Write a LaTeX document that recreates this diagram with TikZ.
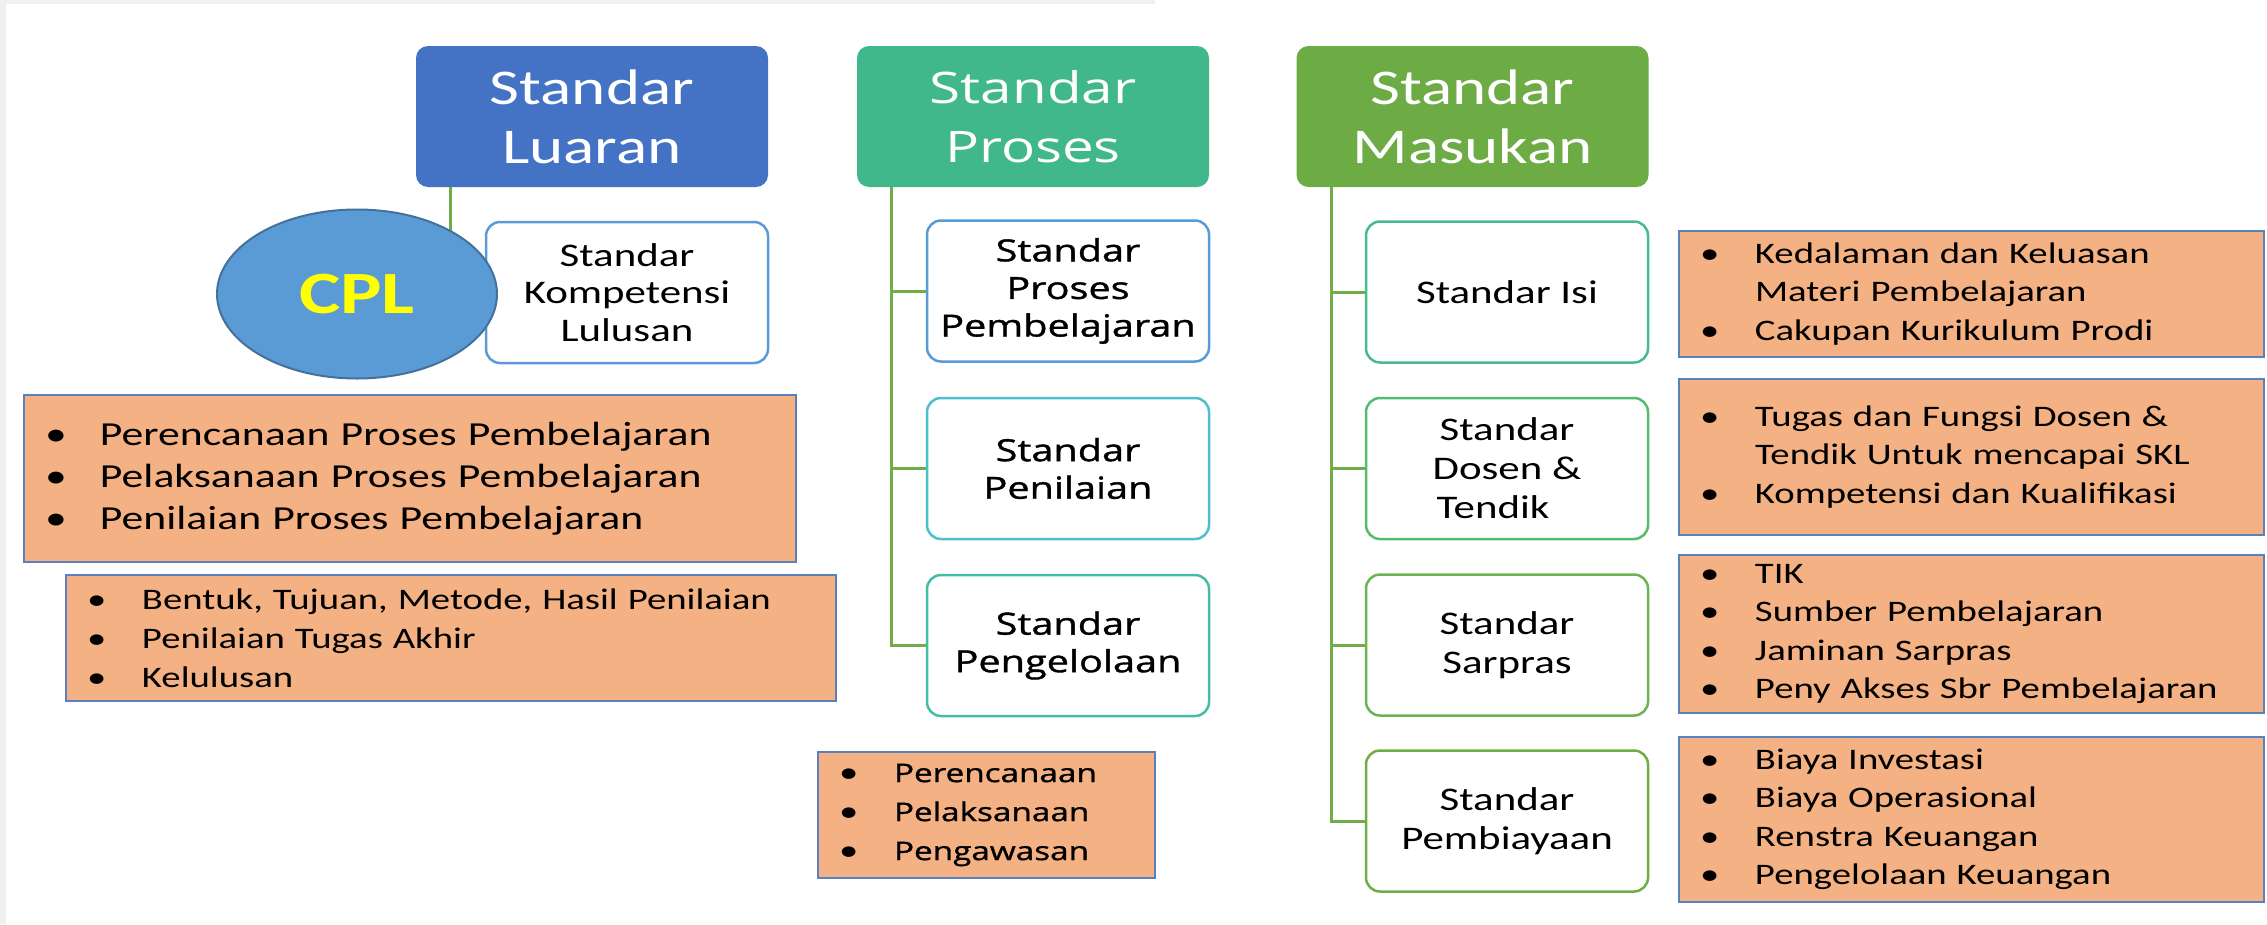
\documentclass[tikz,border=0pt]{standalone}
\usepackage{fontspec}
\usetikzlibrary{backgrounds,shapes.geometric}
\newfontfamily\calfont{Carlito}[FakeStretch=1.3]
\newfontfamily\osfont{Open Sans}[FakeStretch=1.3]
\newfontfamily\osbfont{Open Sans}[FakeStretch=1.3,FakeBold=1.2]
\definecolor{lublue}{HTML}{4472C4}
\definecolor{prgreen}{HTML}{41B88B}
\definecolor{magreen}{HTML}{6DAC45}
\definecolor{kompblue}{HTML}{5B9BD5}
\definecolor{cplfill}{HTML}{5B9BD5}
\definecolor{cplborder}{HTML}{41719C}
\definecolor{cplyellow}{HTML}{FFFF00}
\definecolor{orangefill}{HTML}{F4B183}
\definecolor{olborder}{HTML}{5A80BE}
\definecolor{conngreen}{HTML}{70AD47}
\definecolor{bA}{HTML}{5B9BD5}
\definecolor{bB}{HTML}{4BBFCB}
\definecolor{bC}{HTML}{45BDA5}
\definecolor{bD}{HTML}{46BC8D}
\definecolor{bE}{HTML}{58BA6C}
\definecolor{bF}{HTML}{6BB452}
\definecolor{bG}{HTML}{70AD47}
\definecolor{stripgray}{HTML}{F0F0F0}
\newcommand\lsitem[1]{\mbox{\makebox[55pt][l]{•}#1}}
\newcommand\lsitemo[1]{\mbox{\makebox[55pt][l]{\calfont\fontsize{29.8}{29.8}\selectfont •}#1}}
\newcommand\lscont[1]{\mbox{\hspace*{55pt}#1}}
\tikzset{
  hdr/.style={rounded corners=12pt, minimum width=352pt, minimum height=141pt, text=white, align=center, inner sep=0pt},
  child/.style={draw, line width=2.5pt, fill=white, rounded corners=14pt, minimum width=282pt, minimum height=141pt, align=center, inner sep=0pt, text=black},
  olist/.style={draw=olborder, line width=2.5pt, fill=orangefill, align=left, inner xsep=21pt, inner ysep=0pt, text=black},
  conn/.style={draw=conngreen, line width=3pt},
  calhdr/.style={font=\calfont\fontsize{50}{59}\selectfont},
  oshdr/.style={font=\osfont\fontsize{43.5}{59}\selectfont},
  calchild/.style={font=\calfont\fontsize{33}{39}\selectfont},
  oschild/.style={font=\osbfont\fontsize{30.5}{37.6}\selectfont},
  callist/.style={font=\calfont\fontsize{29.8}{38.5}\selectfont},
}
\begin{document}
\begin{tikzpicture}[x=1pt,y=-1pt]
\useasboundingbox (0,0) rectangle (2267,924);

% headers
\node[hdr, calhdr, fill=lublue] (lu) at (592,116.5) {Standar\\Luaran};
\node[hdr, oshdr, fill=prgreen] (pr) at (1033,116.5) {Standar\\Proses};
\node[hdr, calhdr, fill=magreen] (ma) at (1472.5,116.5) {Standar\\Masukan};

% luaran
\node[child, draw=kompblue, font=\calfont\fontsize{33}{37.6}\selectfont] (komp) at (627,292.5) {Standar\\Kompetensi\\Lulusan};
\node[ellipse, draw=cplborder, line width=2pt, fill=cplfill, minimum width=280pt, minimum height=169pt, inner sep=0pt, text=cplyellow, font=\calfont\bfseries\fontsize{60}{60}\selectfont] (cpl) at (357,294) {CPL};

\node[olist, text width=730pt, minimum height=167pt, font=\calfont\fontsize{33.6}{42}\selectfont] (ol1) at (410,478.5)
  {\lsitem{Perencanaan Proses Pembelajaran}\\\lsitem{Pelaksanaan Proses Pembelajaran}\\\lsitem{Penilaian Proses Pembelajaran}};
\node[olist, text width=728pt, minimum height=126pt, font=\calfont\fontsize{29.8}{39}\selectfont] (ol2) at (451,638)
  {\lsitem{Bentuk, Tujuan, Metode, Hasil Penilaian}\\\lsitem{Penilaian Tugas Akhir}\\\lsitem{Kelulusan}};

% proses
\node[child, oschild, draw=bA] (pc1) at (1068,291) {Standar\\Proses\\Pembelajaran};
\node[child, oschild, draw=bB] (pc2) at (1068,468.5) {Standar\\Penilaian};
\node[child, oschild, draw=bC] (pc3) at (1068,645.5) {Standar\\Pengelolaan};
\node[olist, text width=295pt, minimum height=126pt, font=\osbfont\fontsize{25.6}{39}\selectfont] (pl) at (986.5,815)
  {\lsitemo{Perencanaan}\\\lsitemo{Pelaksanaan}\\\lsitemo{Pengawasan}};

% masukan
\node[child, calchild, draw=bD] (mc1) at (1507,292) {Standar Isi};
\node[child, calchild, draw=bE] (mc2) at (1507,468.5) {Standar\\Dosen \&\\Tendik\hspace*{28pt}};
\node[child, calchild, draw=bF] (mc3) at (1507,645) {Standar\\Sarpras};
\node[child, calchild, draw=bG] (mc4) at (1507,821) {Standar\\Pembiayaan};

\node[olist, callist, text width=543pt, minimum height=126pt] (ml1) at (1971.5,294)
  {\lsitem{Kedalaman dan Keluasan}\\\lscont{Materi Pembelajaran}\\\lsitem{Cakupan Kurikulum Prodi}};
\node[olist, callist, text width=543pt, minimum height=156pt] (ml2) at (1971.5,457)
  {\lsitem{Tugas dan Fungsi Dosen \&}\\\lscont{Tendik Untuk mencapai SKL}\\\lsitem{Kompetensi dan Kualifikasi}};
\node[olist, callist, text width=543pt, minimum height=158pt] (ml3) at (1971.5,634)
  {\lsitem{TIK}\\\lsitem{Sumber Pembelajaran}\\\lsitem{Jaminan Sarpras}\\\lsitem{Peny Akses Sbr Pembelajaran}};
\node[olist, callist, text width=543pt, minimum height=165pt] (ml4) at (1971.5,819.5)
  {\lsitem{Biaya Investasi}\\\lsitem{Biaya Operasional}\\\lsitem{Renstra Keuangan}\\\lsitem{Pengelolaan Keuangan}};

\begin{pgfonlayer}{background}
\fill[white] (0,0) rectangle (2267,924);
\fill[stripgray] (0,0) rectangle (1155,4);
\fill[stripgray] (0,0) rectangle (6,924);
\draw[conn] ([xshift=35pt]lu.south west) |- (komp.west);
\draw[conn] ([xshift=35pt]pr.south west) |- (pc1.west);
\draw[conn] ([xshift=35pt]pr.south west) |- (pc2.west);
\draw[conn] ([xshift=35pt]pr.south west) |- (pc3.west);
\draw[conn] ([xshift=35pt]ma.south west) |- (mc1.west);
\draw[conn] ([xshift=35pt]ma.south west) |- (mc2.west);
\draw[conn] ([xshift=35pt]ma.south west) |- (mc3.west);
\draw[conn] ([xshift=35pt]ma.south west) |- (mc4.west);
\end{pgfonlayer}
\end{tikzpicture}
\end{document}
